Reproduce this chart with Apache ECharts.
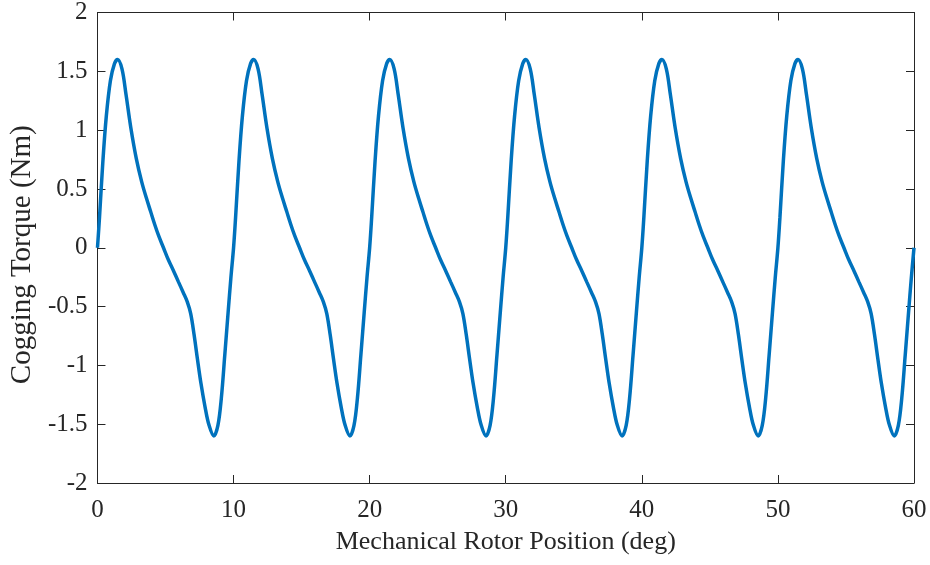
<!DOCTYPE html>
<html>
<head>
<meta charset="utf-8">
<script src="https://cdn.jsdelivr.net/npm/echarts@6/dist/echarts.min.js"></script>
<style>
html,body{margin:0;padding:0;background:#fff;}
#chart{width:930px;height:565px;}
</style>
</head>
<body>
<div id="chart"></div>
<script>
// Mechanical rotor position (deg)
const positionDeg = [
  0, 0.15, 0.4, 0.65, 0.95, 1.25, 1.48, 1.8, 2.1, 2.45, 2.85, 3.25, 3.6, 3.9, 4.2, 4.5, 4.85, 5.2, 5.6, 5.95, 6.3, 6.6, 6.85, 7.1, 7.35, 7.6, 7.9, 8.2, 8.55, 8.85, 9.1, 9.35, 9.6, 9.8,
  10, 10.15, 10.4, 10.65, 10.95, 11.25, 11.48, 11.8, 12.1, 12.45, 12.85, 13.25, 13.6, 13.9, 14.2, 14.5, 14.85, 15.2, 15.6, 15.95, 16.3, 16.6, 16.85, 17.1, 17.35, 17.6, 17.9, 18.2, 18.55, 18.85, 19.1, 19.35, 19.6, 19.8,
  20, 20.15, 20.4, 20.65, 20.95, 21.25, 21.48, 21.8, 22.1, 22.45, 22.85, 23.25, 23.6, 23.9, 24.2, 24.5, 24.85, 25.2, 25.6, 25.95, 26.3, 26.6, 26.85, 27.1, 27.35, 27.6, 27.9, 28.2, 28.55, 28.85, 29.1, 29.35, 29.6, 29.8,
  30, 30.15, 30.4, 30.65, 30.95, 31.25, 31.48, 31.8, 32.1, 32.45, 32.85, 33.25, 33.6, 33.9, 34.2, 34.5, 34.85, 35.2, 35.6, 35.95, 36.3, 36.6, 36.85, 37.1, 37.35, 37.6, 37.9, 38.2, 38.55, 38.85, 39.1, 39.35, 39.6, 39.8,
  40, 40.15, 40.4, 40.65, 40.95, 41.25, 41.48, 41.8, 42.1, 42.45, 42.85, 43.25, 43.6, 43.9, 44.2, 44.5, 44.85, 45.2, 45.6, 45.95, 46.3, 46.6, 46.85, 47.1, 47.35, 47.6, 47.9, 48.2, 48.55, 48.85, 49.1, 49.35, 49.6, 49.8,
  50, 50.15, 50.4, 50.65, 50.95, 51.25, 51.48, 51.8, 52.1, 52.45, 52.85, 53.25, 53.6, 53.9, 54.2, 54.5, 54.85, 55.2, 55.6, 55.95, 56.3, 56.6, 56.85, 57.1, 57.35, 57.6, 57.9, 58.2, 58.55, 58.85, 59.1, 59.35, 59.6, 59.8,
  60
];
// Cogging torque (Nm)
const torqueNm = [
  0, 0.26, 0.74, 1.12, 1.42, 1.565, 1.60, 1.52, 1.30, 1.02, 0.76, 0.56, 0.42, 0.31, 0.20, 0.10, 0.0, -0.10, -0.20, -0.29, -0.38, -0.46, -0.56, -0.74, -0.95, -1.15, -1.35, -1.51, -1.60, -1.51, -1.28, -0.92, -0.55, -0.26,
  0, 0.26, 0.74, 1.12, 1.42, 1.565, 1.60, 1.52, 1.30, 1.02, 0.76, 0.56, 0.42, 0.31, 0.20, 0.10, 0.0, -0.10, -0.20, -0.29, -0.38, -0.46, -0.56, -0.74, -0.95, -1.15, -1.35, -1.51, -1.60, -1.51, -1.28, -0.92, -0.55, -0.26,
  0, 0.26, 0.74, 1.12, 1.42, 1.565, 1.60, 1.52, 1.30, 1.02, 0.76, 0.56, 0.42, 0.31, 0.20, 0.10, 0.0, -0.10, -0.20, -0.29, -0.38, -0.46, -0.56, -0.74, -0.95, -1.15, -1.35, -1.51, -1.60, -1.51, -1.28, -0.92, -0.55, -0.26,
  0, 0.26, 0.74, 1.12, 1.42, 1.565, 1.60, 1.52, 1.30, 1.02, 0.76, 0.56, 0.42, 0.31, 0.20, 0.10, 0.0, -0.10, -0.20, -0.29, -0.38, -0.46, -0.56, -0.74, -0.95, -1.15, -1.35, -1.51, -1.60, -1.51, -1.28, -0.92, -0.55, -0.26,
  0, 0.26, 0.74, 1.12, 1.42, 1.565, 1.60, 1.52, 1.30, 1.02, 0.76, 0.56, 0.42, 0.31, 0.20, 0.10, 0.0, -0.10, -0.20, -0.29, -0.38, -0.46, -0.56, -0.74, -0.95, -1.15, -1.35, -1.51, -1.60, -1.51, -1.28, -0.92, -0.55, -0.26,
  0, 0.26, 0.74, 1.12, 1.42, 1.565, 1.60, 1.52, 1.30, 1.02, 0.76, 0.56, 0.42, 0.31, 0.20, 0.10, 0.0, -0.10, -0.20, -0.29, -0.38, -0.46, -0.56, -0.74, -0.95, -1.15, -1.35, -1.51, -1.60, -1.51, -1.28, -0.92, -0.55, -0.26,
  0
];
const xTicks = [0, 10, 20, 30, 40, 50, 60];
const yTicks = [-2, -1.5, -1, -0.5, 0, 0.5, 1, 1.5, 2];
const xTitle = 'Mechanical Rotor Position (deg)';
const yTitle = 'Cogging Torque (Nm)';

const axisColor = '#262626';
const font = '"Liberation Serif", "Times New Roman", serif';
const seriesData = positionDeg.map((x, i) => [x, torqueNm[i]]);

const chart = echarts.init(document.getElementById('chart'), null, {renderer: 'canvas'});
const commonAxis = {
  axisLine: {show: true, onZero: false, lineStyle: {color: axisColor, width: 1}},
  axisTick: {show: true, inside: true, length: 8, lineStyle: {color: axisColor, width: 1}},
  splitLine: {show: false}
};
chart.setOption({
  animation: false,
  backgroundColor: '#ffffff',
  grid: {left: 97, right: 16, top: 10, bottom: 82, containLabel: false},
  xAxis: [
    Object.assign({}, commonAxis, {
      type: 'value', position: 'bottom',
      min: xTicks[0], max: xTicks[xTicks.length - 1], interval: 10,
      name: xTitle, nameLocation: 'middle', nameGap: 46,
      nameTextStyle: {fontFamily: font, fontSize: 26, color: axisColor},
      axisLabel: {fontFamily: font, fontSize: 25, color: axisColor, margin: 15,
        formatter: v => xTicks.includes(v) ? String(v) : ''}
    }),
    Object.assign({}, commonAxis, {
      type: 'value', position: 'top',
      min: xTicks[0], max: xTicks[xTicks.length - 1], interval: 10,
      axisLabel: {show: false}
    })
  ],
  yAxis: [
    Object.assign({}, commonAxis, {
      type: 'value', position: 'left',
      min: yTicks[0], max: yTicks[yTicks.length - 1], interval: 0.5,
      name: yTitle, nameLocation: 'middle', nameGap: 59,
      nameTextStyle: {fontFamily: font, fontSize: 29, color: axisColor, padding: [0, 14, 0, 0]},
      axisLabel: {fontFamily: font, fontSize: 25, color: axisColor, margin: 10,
        formatter: v => String(v)}
    }),
    Object.assign({}, commonAxis, {
      type: 'value', position: 'right',
      min: yTicks[0], max: yTicks[yTicks.length - 1], interval: 0.5,
      axisLabel: {show: false}
    })
  ],
  series: [{
    type: 'line',
    data: seriesData,
    xAxisIndex: 0,
    yAxisIndex: 0,
    smooth: 0.35,
    showSymbol: false,
    symbol: 'none',
    lineStyle: {color: '#0072BD', width: 3.5},
    clip: true
  }]
});
</script>
</body>
</html>
